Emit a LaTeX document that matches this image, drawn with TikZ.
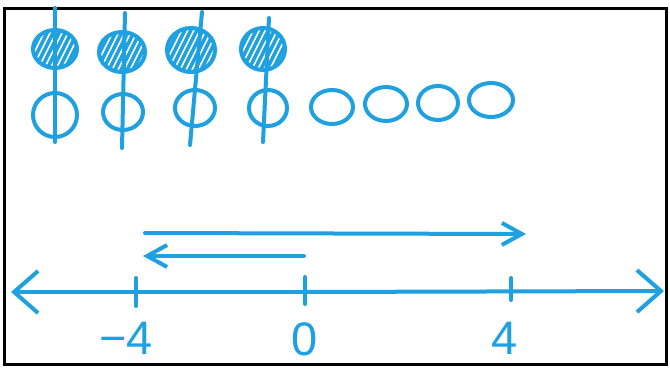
\documentclass[tikz,border=0pt]{standalone}
\usepackage{fontspec}
\setmainfont{Liberation Sans}
\usetikzlibrary{arrows.meta}
\definecolor{pen}{RGB}{30,160,225}
\tikzset{
  ink/.style={draw=pen, line width=4pt, line cap=round, line join=round},
  bigbarb/.style={-{Straight Barb[length=24pt,width=42pt,line width=4pt]}},
  smallbarb/.style={-{Straight Barb[length=20pt,width=22pt,line width=4pt]}},
  lbl/.style={text=pen, font=\fontsize{47}{47}\selectfont, inner sep=0pt},
  hatch/.style={draw=pen, line width=3.4pt},
}
\begin{document}
\begin{tikzpicture}[x=1pt,y=-1pt]
\useasboundingbox (0,0) rectangle (670,370);
\fill[white] (0,0) rectangle (670,370);
\draw[black, line width=3pt] (4.5,8.5) rectangle (666,364);

% hatched circles
\foreach \cx/\cy/\rx/\ry [count=\i] in {55/49/22/19, 122/52/23/20, 191/50/24/22, 263/49/22/21}{
  \begin{scope}
    \clip (\cx,\cy) ellipse [x radius=\rx, y radius=\ry];
    \foreach \k in {-40,-34,...,40}{
      \draw[hatch] (\cx+\k-12,\cy+24) -- (\cx+\k+12,\cy-24);
    }
  \end{scope}
  \draw[ink] (\cx,\cy) ellipse [x radius=\rx, y radius=\ry];
}
% open circles under
\foreach \cx/\cy/\rx/\ry in {55/115/22/22, 123/112/20/18, 195/108/20/18, 268/108/19/18}{
  \draw[ink] (\cx,\cy) ellipse [x radius=\rx, y radius=\ry];
}
% vertical strokes
\coordinate (v1a) at (55,8);   \coordinate (v1b) at (55,142);
\coordinate (v2a) at (125,13); \coordinate (v2b) at (122,148);
\coordinate (v3a) at (202,12); \coordinate (v3b) at (190,145);
\coordinate (v4a) at (269,18); \coordinate (v4b) at (263,142);
\draw[ink] (v1a) -- (v1b);
\draw[ink] (v2a) -- (v2b);
\draw[ink] (v3a) -- (v3b);
\draw[ink] (v4a) -- (v4b);

% extra circles
\foreach \cx/\cy/\rx/\ry in {332/107/21/17, 386/104/21/17, 438/103/20/17, 491/100/22/17}{
  \draw[ink] (\cx,\cy) ellipse [x radius=\rx, y radius=\ry];
}

% number line
\coordinate (L) at (11,292);
\coordinate (R) at (664,291);
\draw[ink, bigbarb] (305,292) -- (L);
\draw[ink, bigbarb] (305,292) -- (R);
% ticks
\coordinate (tA) at (136,278); \coordinate (tAb) at (136,306);
\coordinate (tB) at (305,277); \coordinate (tBb) at (305,304);
\coordinate (tC) at (511,278); \coordinate (tCb) at (511,300);
\draw[ink] (tA) -- (tAb);
\draw[ink] (tB) -- (tBb);
\draw[ink] (tC) -- (tCb);
% labels
\node[lbl] (m4) at (126,338) {−4};
\node[lbl] (z0) at (305,339) {0};
\node[lbl] (p4) at (505,338) {4};

% jump arrows
\coordinate (s1) at (304,256);
\coordinate (e1) at (143,256);
\draw[ink, smallbarb] (s1) -- (e1);
\coordinate (s2) at (145,233);
\coordinate (e2) at (526,234);
\draw[ink, smallbarb] (s2) -- (e2);
\end{tikzpicture}
\end{document}
